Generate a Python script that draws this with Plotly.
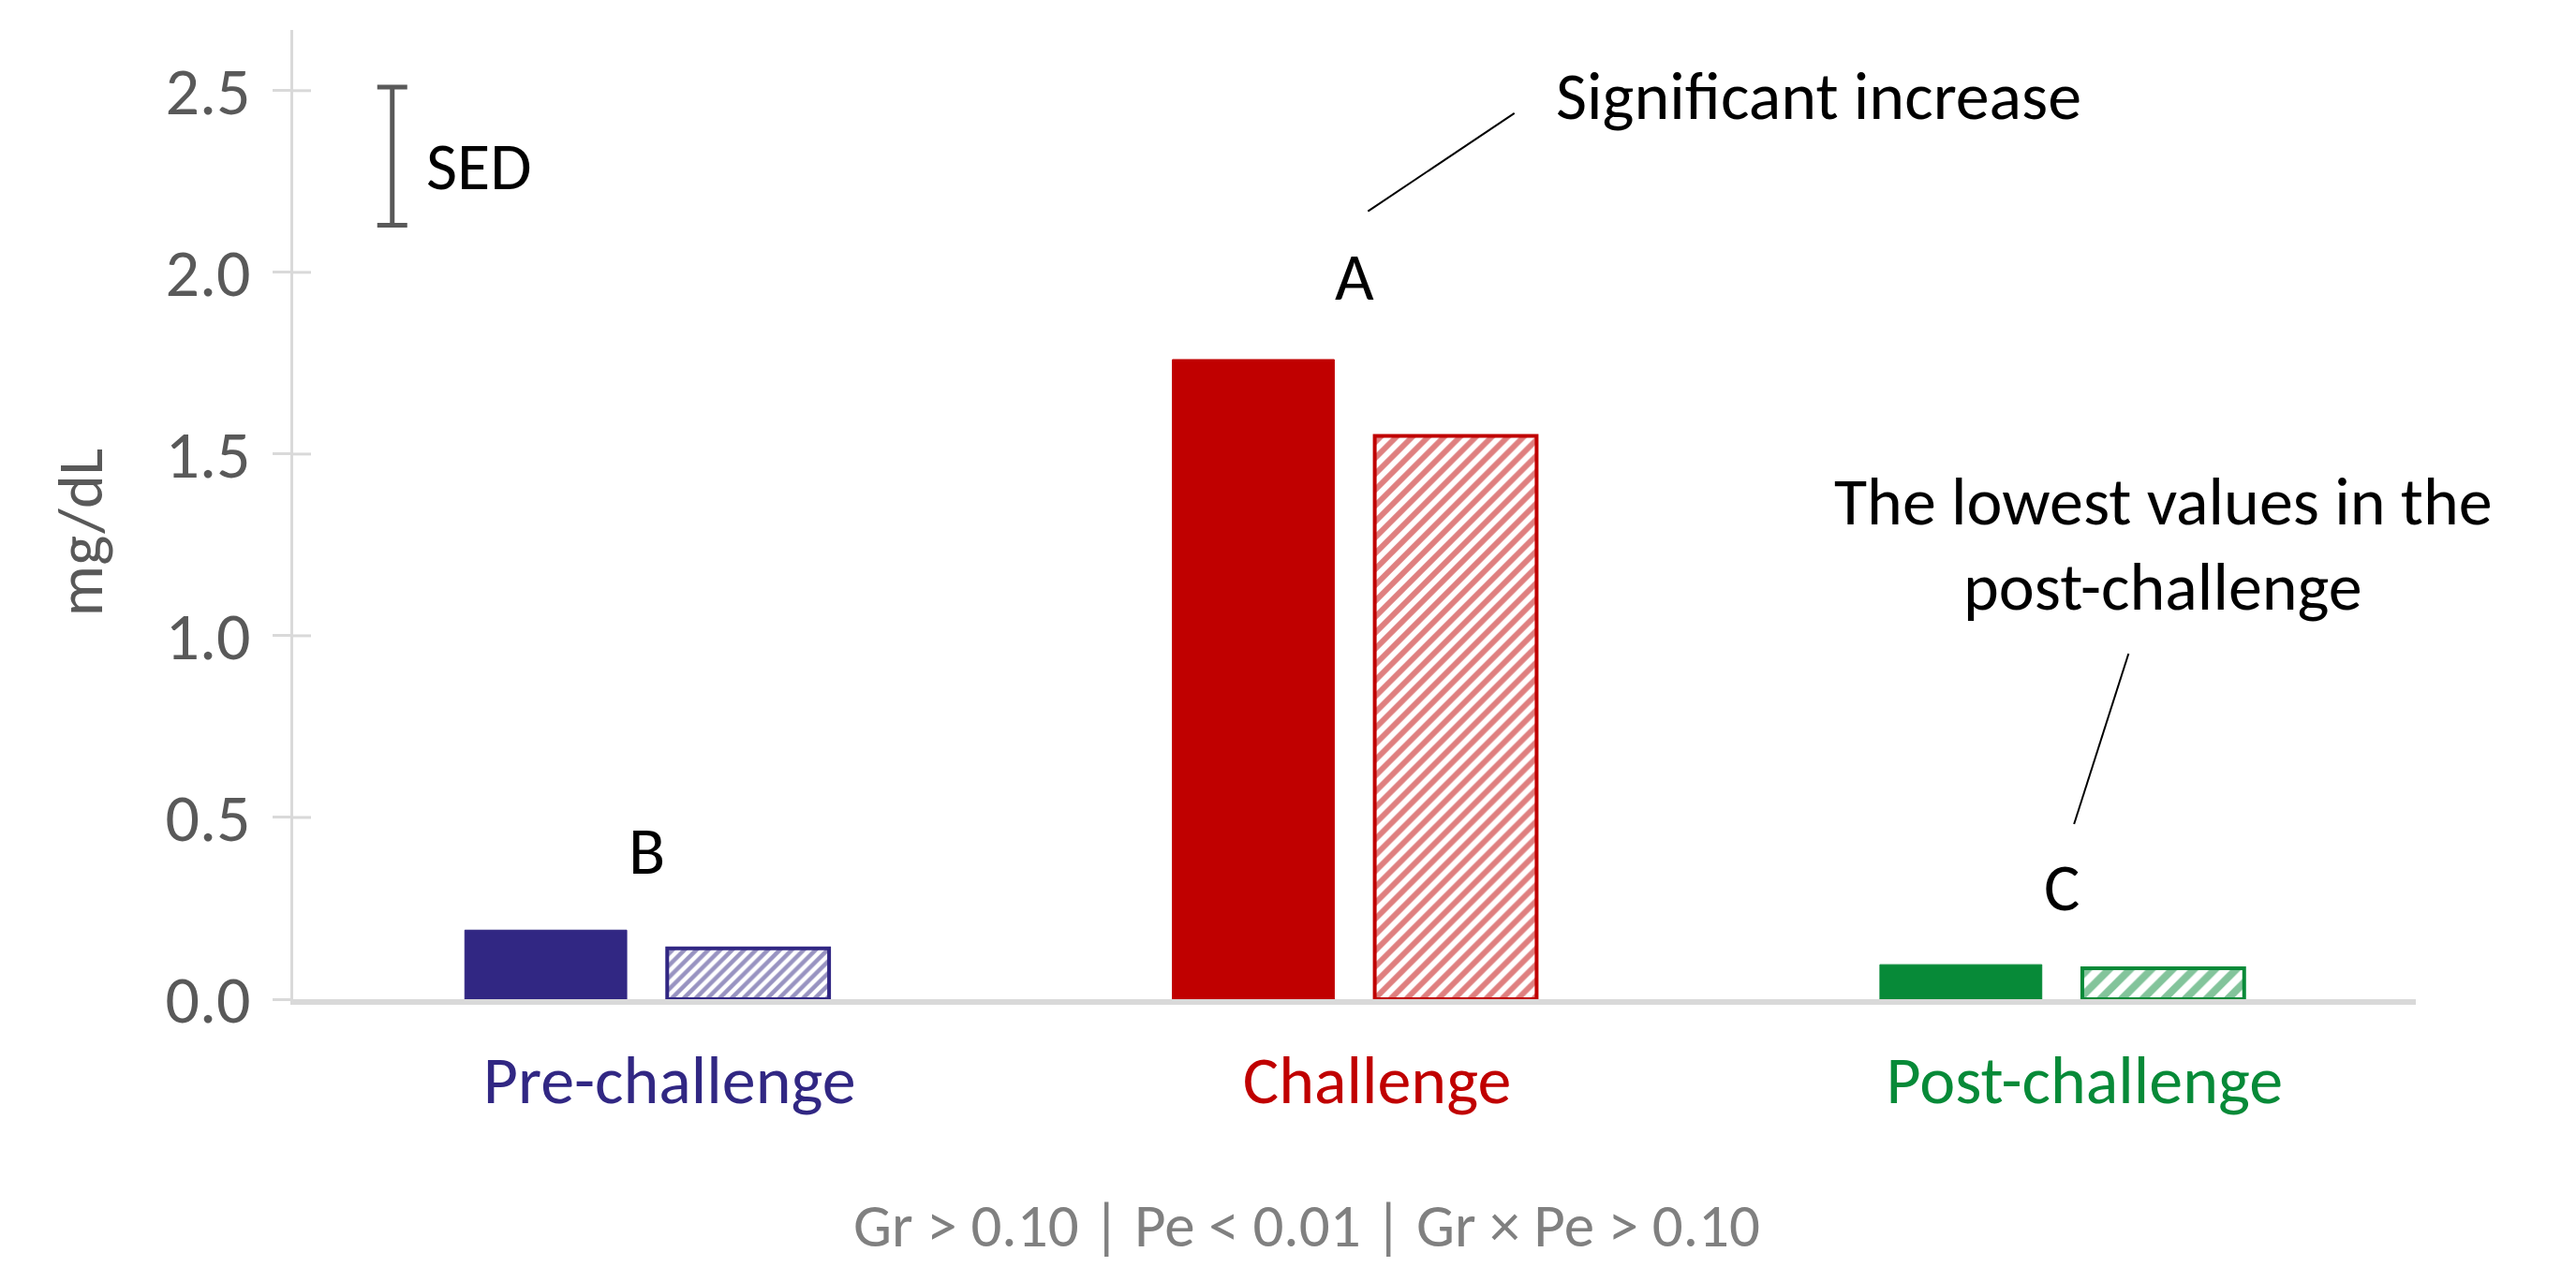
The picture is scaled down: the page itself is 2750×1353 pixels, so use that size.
import plotly.graph_objects as go

# ---- data ----
categories = ["Pre-challenge", "Challenge", "Post-challenge"]
solid_values = [0.19, 1.76, 0.095]
hatched_values = [0.14, 1.55, 0.085]
group_colors = ["#312783", "#C00000", "#078A38"]
hatch_sizes = [9, 12, 16]
letters = ["B", "A", "C"]
letter_y = [0.41, 1.99, 0.31]
y_ticks = [0.0, 0.5, 1.0, 1.5, 2.0, 2.5]
y_ticktext = ["0.0", "0.5", "1.0", "1.5", "2.0", "2.5"]
sed_x = -0.36
sed_top = 2.51
sed_bottom = 2.13
footer_text = "Gr > 0.10 | Pe < 0.01 | Gr × Pe > 0.10"

FONT = "Carlito, Lato, sans-serif"
FS = 72
GREY = "#595959"
AXIS = "#D9D9D9"

x_pos = list(range(len(categories)))

fig = go.Figure()

fig.add_trace(go.Bar(
    x=x_pos, y=solid_values,
    marker=dict(color=group_colors, line=dict(color=group_colors, width=1)),
    showlegend=False, hoverinfo="skip",
))
fig.add_trace(go.Bar(
    x=x_pos, y=hatched_values,
    marker=dict(
        color="white",
        line=dict(color=group_colors, width=4),
        pattern=dict(shape="/", fgcolor=group_colors, bgcolor="white",
                     size=hatch_sizes, solidity=0.5, fillmode="overlay"),
    ),
    showlegend=False, hoverinfo="skip",
))

# SED bar
sed_mid = (sed_top + sed_bottom) / 2
fig.add_trace(go.Scatter(
    x=[sed_x], y=[sed_mid], mode="markers",
    marker=dict(size=1, color="rgba(0,0,0,0)"),
    error_y=dict(type="data", array=[sed_top - sed_mid], color=GREY,
                 thickness=5, width=16),
    showlegend=False, hoverinfo="skip",
))

tick_colored = [f"<span style='color:{c}'>{t}</span>" for t, c in zip(categories, group_colors)]

fig.update_layout(
    width=2750, height=1353,
    margin=dict(l=305, r=179, t=24, b=294),
    paper_bgcolor="white", plot_bgcolor="white",
    bargap=0.428, bargroupgap=0.2, barmode="group",
    font=dict(family=FONT, size=FS, color=GREY),
    xaxis=dict(
        range=[-0.5, 2.5], tickvals=x_pos, ticktext=tick_colored,
        showline=True, linecolor=AXIS, linewidth=6,
        showgrid=False, zeroline=False, ticks="",
        ticklabelstandoff=19, ticklabelshift=24,
        tickfont=dict(size=FS, family=FONT),
    ),
    yaxis=dict(
        range=[0, 2.667], tickvals=y_ticks, ticktext=y_ticktext,
        showline=True, linecolor=AXIS, linewidth=3,
        showgrid=False, zeroline=False,
        ticks="outside", ticklen=19, tickwidth=3, tickcolor=AXIS,
        ticklabelstandoff=9,
        tickfont=dict(size=FS, family=FONT, color=GREY),
    ),
)

# inside half of crossing tick marks
for v in y_ticks[1:]:
    fig.add_shape(type="line", xref="paper", yref="y", xsizemode="pixel", xanchor=0,
                  x0=0, x1=19, y0=v, y1=v, line=dict(color=AXIS, width=3), layer="below")

# letters
for xp, L, ly in zip(x_pos, letters, letter_y):
    fig.add_annotation(x=xp, y=ly, text=L, showarrow=False,
                       font=dict(size=FS, color="black", family=FONT))

# SED label
fig.add_annotation(x=-0.314, y=2.294, text="SED", showarrow=False, xanchor="left",
                   font=dict(size=FS, color="black", family=FONT))

# callouts
fig.add_shape(type="line", xref="x", yref="y", x0=1.019, y0=2.168, x1=1.226, y1=2.438,
              line=dict(color="black", width=2))
fig.add_annotation(x=1.656, y=2.487, text="Significant increase", showarrow=False,
                   font=dict(size=FS, color="black", family=FONT))

fig.add_shape(type="line", xref="x", yref="y", x0=2.094, y0=0.951, x1=2.017, y1=0.482,
              line=dict(color="black", width=2))
fig.add_annotation(x=2.143, y=(1067 - 535) / 388, text="The lowest values in the", showarrow=False,
                   font=dict(size=FS, color="black", family=FONT))
fig.add_annotation(x=2.143, y=(1067 - 626) / 388, text="post-challenge", showarrow=False,
                   font=dict(size=FS, color="black", family=FONT))

# y axis title
fig.add_annotation(xref="paper", yref="y", x=-0.1006, y=1.283, text="mg/dL", textangle=-90,
                   xanchor="center", yanchor="middle",
                   showarrow=False, font=dict(size=68, color=GREY, family=FONT))

# footer
fig.add_annotation(xref="paper", yref="paper", x=0.4775, y=-0.2338, text=footer_text,
                   xanchor="center", yanchor="middle",
                   showarrow=False, font=dict(size=65, color="#808080", family=FONT))

fig.write_html("out.html")
